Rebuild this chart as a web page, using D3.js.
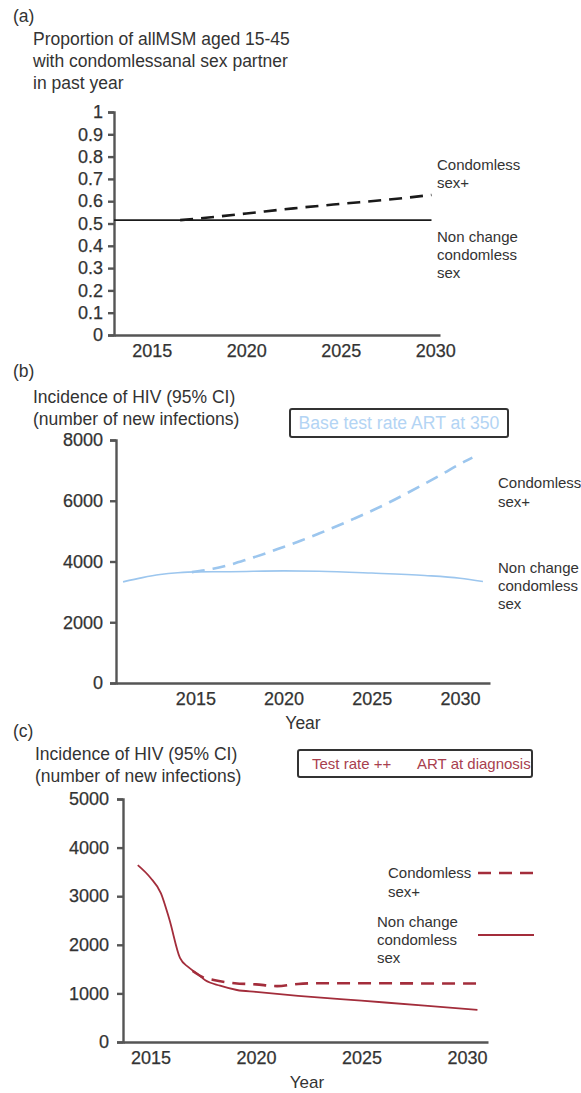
<!DOCTYPE html>
<html>
<head>
<meta charset="utf-8">
<script src="https://cdn.jsdelivr.net/npm/d3@7"></script>
<style>
  html, body { margin: 0; padding: 0; background: #fff; }
  svg { display: block; font-family: "Liberation Sans", Arial, sans-serif; }
  .axis path, .axis line { stroke: #555; stroke-width: 2.4; }
  .axis text { fill: #333; font-size: 18px; font-family: "Liberation Sans", Arial, sans-serif;
               stroke: #333; stroke-width: 0.25; }
</style>
</head>
<body>
<svg id="chart" width="581" height="1093"></svg>
<script>
// ---- Panel (a): proportion of MSM with condomless anal sex partner ----
const aTicksY = [0, 0.1, 0.2, 0.3, 0.4, 0.5, 0.6, 0.7, 0.8, 0.9, 1];
const aTicksX = [2015, 2020, 2025, 2030];
const aYearsNoChange = [2013, 2016, 2020, 2025, 2029.8];
const aValsNoChange  = [0.515, 0.515, 0.515, 0.515, 0.515];
const aYearsMore = [2016.5, 2018, 2020, 2022.5, 2025, 2027.5, 2029.8];
const aValsMore  = [0.515, 0.527, 0.545, 0.568, 0.588, 0.607, 0.628];

// ---- Panel (b): HIV incidence, base test rate, ART at 350 ----
const bTicksY = [0, 2000, 4000, 6000, 8000];
const bTicksX = [2015, 2020, 2025, 2030];
const bYearsNoChange = [2010.9, 2012, 2013, 2014, 2015, 2017, 2020, 2022, 2025, 2028, 2030, 2031.3];
const bValsNoChange  = [3330, 3470, 3570, 3630, 3660, 3665, 3690, 3680, 3620, 3540, 3450, 3340];
const bYearsMore = [2014.8, 2016, 2017, 2018, 2019, 2020, 2021, 2022, 2023, 2024, 2025, 2026, 2027, 2028, 2029, 2030, 2030.7];
const bValsMore  = [3650, 3760, 3900, 4080, 4270, 4480, 4690, 4920, 5160, 5410, 5670, 5950, 6250, 6560, 6880, 7210, 7420];

// ---- Panel (c): HIV incidence, test rate ++, ART at diagnosis ----
const cTicksY = [0, 1000, 2000, 3000, 4000, 5000];
const cTicksX = [2015, 2020, 2025, 2030];
const cYearsNoChange = [2014.4, 2015, 2015.5, 2015.9, 2016.4, 2016.8, 2017.2, 2017.6, 2018.3, 2019.1, 2020, 2022, 2025, 2028, 2030.5];
const cValsNoChange  = [3640, 3380, 3060, 2520, 1730, 1540, 1410, 1270, 1160, 1070, 1030, 950, 850, 750, 660];
const cYearsMore = [2017.0, 2017.5, 2018, 2019, 2020, 2021, 2022, 2023, 2025, 2028, 2030.6];
const cValsMore  = [1460, 1330, 1275, 1210, 1185, 1150, 1195, 1210, 1210, 1205, 1205];

const svg = d3.select("#chart");
const textColor = "#333";
const zip = (xs, ys) => xs.map((x, i) => [x, ys[i]]);

function text(g, x, y, str, size, opts = {}) {
  return g.append("text")
    .attr("x", x).attr("y", y)
    .attr("font-size", size)
    .attr("fill", opts.fill || textColor)
    .attr("text-anchor", opts.anchor || "start")
    .text(str);
}

function panel(cfg) {
  const g = svg.append("g");
  const x = d3.scaleLinear().domain(cfg.xDomain).range(cfg.xRange);
  const y = d3.scaleLinear().domain(cfg.yDomain).range(cfg.yRange);

  g.append("g").attr("class", "axis")
    .attr("transform", `translate(0,${cfg.yRange[0]})`)
    .call(d3.axisBottom(x).tickValues(cfg.ticksX).tickFormat(d3.format("d"))
      .tickSize(0).tickPadding(9));

  g.append("g").attr("class", "axis")
    .attr("transform", `translate(${cfg.xRange[0]},0)`)
    .call(d3.axisLeft(y).tickValues(cfg.ticksY).tickFormat(cfg.yFormat)
      .tickSize(6).tickPadding(cfg.yPad));

  const line = d3.line().x(d => x(d[0])).y(d => y(d[1])).curve(d3.curveMonotoneX);

  g.append("path").datum(zip(cfg.yearsNoChange, cfg.valsNoChange))
    .attr("d", line).attr("fill", "none")
    .attr("stroke", cfg.color).attr("stroke-width", cfg.solidWidth);

  g.append("path").datum(zip(cfg.yearsMore, cfg.valsMore))
    .attr("d", line).attr("fill", "none")
    .attr("stroke", cfg.color).attr("stroke-width", 2.6)
    .attr("stroke-dasharray", "13,8");

  return g;
}

// Panel (a)
const ga = panel({
  xDomain: [2013, 2030.25], xRange: [114, 440],
  yDomain: [0, 1], yRange: [335, 112],
  ticksX: aTicksX, ticksY: aTicksY, yFormat: d3.format(""), yPad: 5,
  yearsNoChange: aYearsNoChange, valsNoChange: aValsNoChange,
  yearsMore: aYearsMore, valsMore: aValsMore,
  color: "#1a1a1a", solidWidth: 1.6
});
text(ga, 13, 22, "(a)", 17.5);
text(ga, 33, 45, "Proportion of allMSM aged 15-45", 17.5);
text(ga, 33, 67, "with condomlessanal sex partner", 17.5);
text(ga, 33, 89, "in past year", 17.5);
text(ga, 437, 170, "Condomless", 15);
text(ga, 437, 188, "sex+", 15);
text(ga, 437, 242, "Non change", 15);
text(ga, 437, 260, "condomless", 15);
text(ga, 437, 278, "sex", 15);

// Panel (b)
const gb = panel({
  xDomain: [2010.5, 2031.7], xRange: [116, 490],
  yDomain: [0, 8000], yRange: [683, 440],
  ticksX: bTicksX, ticksY: bTicksY, yFormat: d3.format("d"), yPad: 7,
  yearsNoChange: bYearsNoChange, valsNoChange: bValsNoChange,
  yearsMore: bYearsMore, valsMore: bValsMore,
  color: "#9cc6ee", solidWidth: 1.6
});
text(gb, 13, 377, "(b)", 17.5);
text(gb, 33, 403, "Incidence of HIV (95% CI)", 17.5);
text(gb, 33, 425, "(number of new infections)", 17.5);
gb.append("rect").attr("x", 290).attr("y", 409).attr("width", 218).attr("height", 28)
  .attr("rx", 2).attr("fill", "#fff").attr("stroke", "#333").attr("stroke-width", 2);
text(gb, 399, 429, "Base test rate ART at 350", 17.6, { fill: "#b3d4f4", anchor: "middle" });
text(gb, 498, 488, "Condomless", 15);
text(gb, 498, 507, "sex+", 15);
text(gb, 498, 573, "Non change", 15);
text(gb, 498, 591, "condomless", 15);
text(gb, 498, 609, "sex", 15);
text(gb, 303, 729, "Year", 17.5, { anchor: "middle" });

// Panel (c)
const redColor = "#a32d3b";
const gc = panel({
  xDomain: [2013.7, 2031.0], xRange: [123, 488],
  yDomain: [0, 5000], yRange: [1042, 799],
  ticksX: cTicksX, ticksY: cTicksY, yFormat: d3.format("d"), yPad: 8,
  yearsNoChange: cYearsNoChange, valsNoChange: cValsNoChange,
  yearsMore: cYearsMore, valsMore: cValsMore,
  color: redColor, solidWidth: 1.8
});
text(gc, 13, 737, "(c)", 17.5);
text(gc, 35, 760, "Incidence of HIV (95% CI)", 17.5);
text(gc, 35, 782, "(number of new infections)", 17.5);
gc.append("rect").attr("x", 298).attr("y", 750).attr("width", 234).attr("height", 27)
  .attr("rx", 2).attr("fill", "#fff").attr("stroke", "#333").attr("stroke-width", 2);
text(gc, 312, 769, "Test rate ++", 15, { fill: "#a8404e" });
text(gc, 417, 769, "ART at diagnosis", 15, { fill: "#a8404e" });
text(gc, 388, 878, "Condomless", 15);
text(gc, 388, 897, "sex+", 15);
text(gc, 377, 927, "Non change", 15);
text(gc, 377, 945, "condomless", 15);
text(gc, 377, 963, "sex", 15);
gc.append("line").attr("x1", 478).attr("x2", 534).attr("y1", 873).attr("y2", 873)
  .attr("stroke", redColor).attr("stroke-width", 2.6).attr("stroke-dasharray", "13,8");
gc.append("line").attr("x1", 478).attr("x2", 534).attr("y1", 935).attr("y2", 935)
  .attr("stroke", redColor).attr("stroke-width", 1.8);
text(gc, 307, 1088, "Year", 17, { anchor: "middle" });
</script>
</body>
</html>
